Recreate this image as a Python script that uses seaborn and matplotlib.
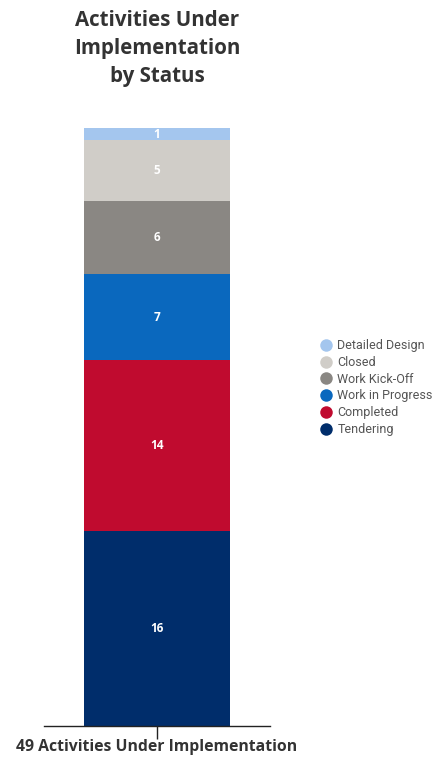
import matplotlib
matplotlib.use("Agg")
import matplotlib.pyplot as plt
from matplotlib.lines import Line2D
import seaborn as sns

# Activity counts per status, stacked bottom to top
statuses = ["Tendering", "Completed", "Work in Progress", "Work Kick-Off", "Closed", "Detailed Design"]
counts = [16, 14, 7, 6, 5, 1]
colors = ["#002d6b", "#c00b2f", "#0a68be", "#8a8783", "#d0cdc8", "#a4c6ee"]
category = "49 Activities Under Implementation"
title = "Activities Under\nImplementation\nby Status"

sns.set_theme(style="white")
plt.rcParams["font.family"] = ["Open Sans", "DejaVu Sans"]

fig = plt.figure(figsize=(4.48, 7.57), dpi=100)
ax = fig.add_axes([44 / 448, 31 / 757, 226 / 448, 598 / 757])

bottom = 0
for name, value, color in zip(statuses, counts, colors):
    sns.barplot(x=[category], y=[value], bottom=bottom, color=color,
                width=0.646, saturation=1, ax=ax, linewidth=0)
    ax.text(0, bottom + value / 2, str(value), ha="center", va="center",
            color="white", fontsize=8.5, fontweight="bold")
    bottom += value

ax.set_xlim(-0.5, 0.5)
ax.set_ylim(0, sum(counts))
ax.set_yticks([])
ax.set_ylabel("")
ax.set_xlabel("")
for side in ["top", "right", "left"]:
    ax.spines[side].set_visible(False)
ax.spines["bottom"].set_color("#222222")
ax.spines["bottom"].set_linewidth(1.0)
ax.tick_params(axis="x", bottom=True, length=9, width=1.0, color="#222222",
               pad=0.5, labelsize=11.3, labelcolor="#333333")
for lbl in ax.get_xticklabels():
    lbl.set_fontweight("bold")

fig.text(157 / 448, 1 - 10 / 757, title, ha="center", va="top",
         fontsize=14.8, fontweight="bold", color="#333333", linespacing=1.45)

handles = [Line2D([], [], marker="o", linestyle="", markersize=9,
                  markerfacecolor=c, markeredgewidth=0)
           for c in colors[::-1]]
fig.legend(handles, statuses[::-1], loc="upper left",
           bbox_to_anchor=(313 / 448, 1 - 333 / 757), frameon=False,
           labelcolor="#555555", handletextpad=0.35,
           labelspacing=0.3, handlelength=1.1, borderpad=0,
           prop={"family": ["Roboto", "DejaVu Sans"], "size": 9})

fig.savefig("out.png", dpi=100, facecolor="white")
